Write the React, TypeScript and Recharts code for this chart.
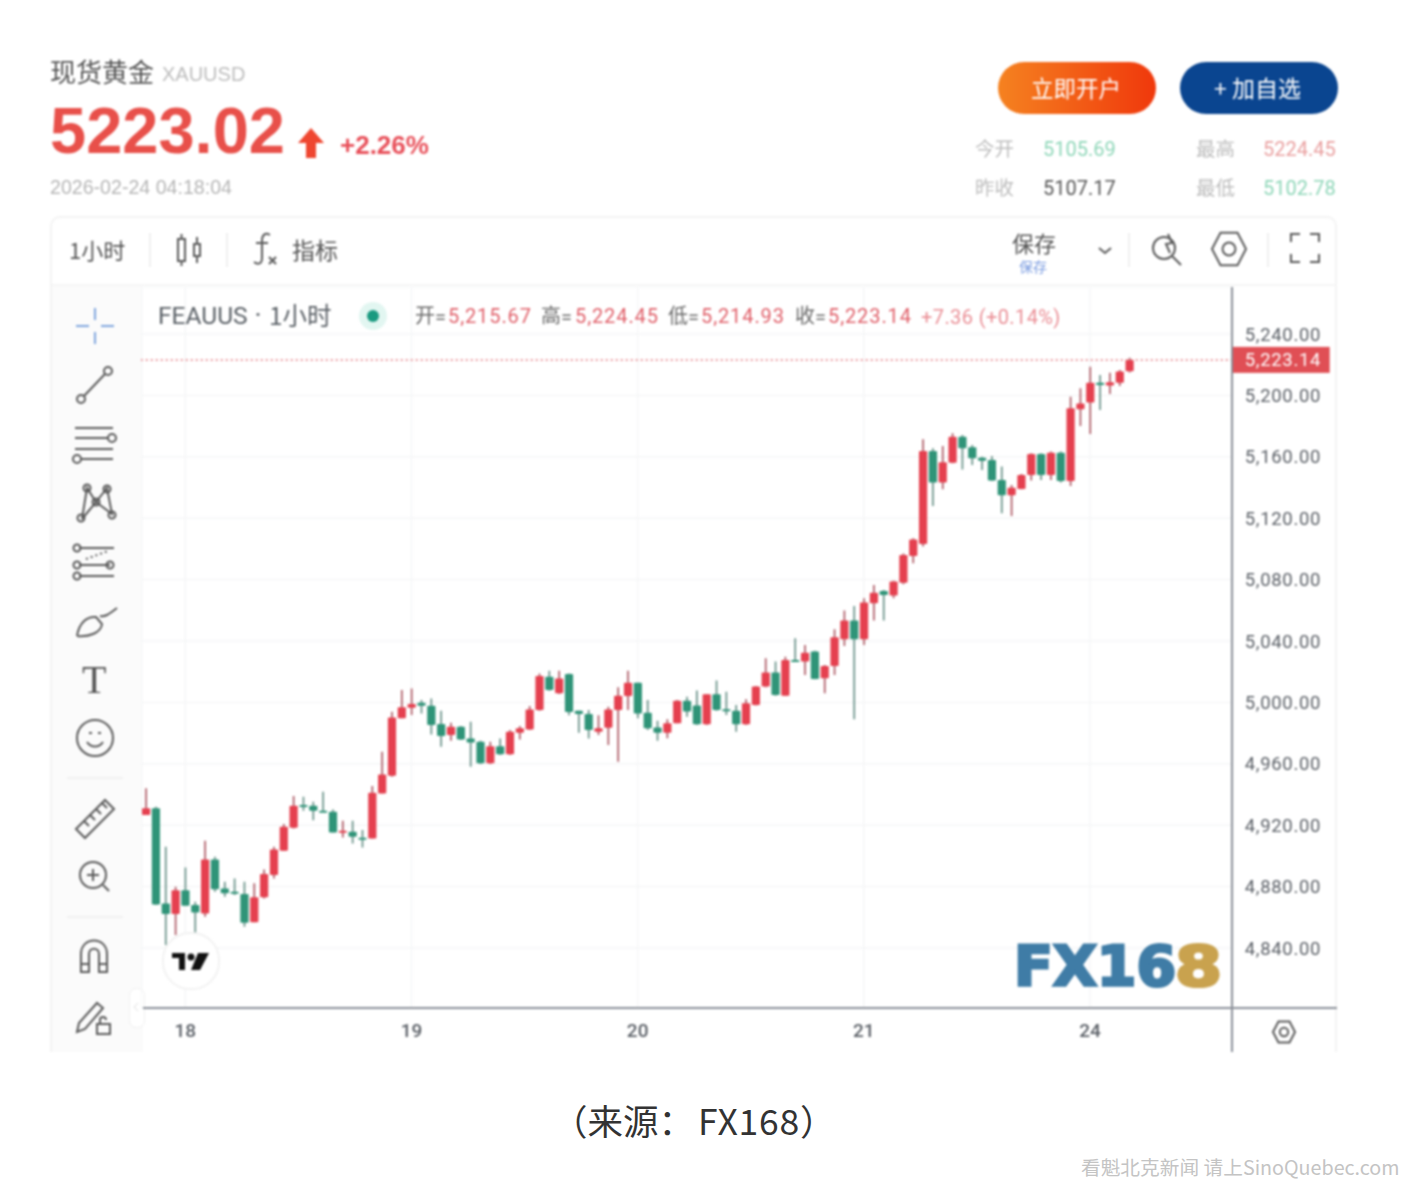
import { ComposedChart, Bar, XAxis, YAxis, CartesianGrid, ReferenceLine } from "recharts";

const UP = "#e5404f";
const DOWN = "#2f9478";
const UP_WICK = "#a8505c";
const DOWN_WICK = "#5f8a80";
const ICON = "#5a5a5a";
const CJK = '"Noto Sans CJK SC", sans-serif';
const ARIAL = '"Liberation Sans", sans-serif';

// hourly candles, oldest first
const opens = [
  4926.6, 4931, 4869, 4862.1, 4877.7, 4868, 4862.5, 4897.7, 4878.8, 4876.6,
  4875.1, 4856.7, 4873, 4887.5, 4903.4, 4918.4, 4933.1, 4932.7, 4929.4, 4928.8,
  4915.1, 4915.7, 4911.8, 4911.4, 4940.7, 4952.2, 4989.6, 4996.5, 4999.8, 4997.8,
  4985.9, 4978.7, 4984.1, 4976.5, 4974.4, 4960.3, 4971.5, 4966.3, 4980.2, 4982.4,
  4995, 5016.7, 5005.9, 5018.5, 4994.6, 4992.4, 4980.9, 4983.5, 4995, 5004.1,
  5012.8, 4993.3, 4983.7, 4980.3, 4986.4, 5001.1, 4997.9, 4985.7, 5005.3, 4995.5,
  4994.6, 4985.7, 4998.3, 5010.3, 5019.4, 5004.4, 5027.6, 5026.6, 5033.1, 5015.7,
  5023.7, 5041.1, 5053.3, 5041.1, 5064.6, 5072.6, 5069.6, 5078, 5095.4, 5103.2,
  5163.8, 5143.2, 5156.2, 5173.1, 5166.2, 5159.4, 5157.9, 5144.9, 5134.9, 5139,
  5148.1, 5161.8, 5148.1, 5162.7, 5144.2, 5190.9, 5195.3, 5208.3, 5206.4, 5208.3,
  5215.67,
];
const highs = [
  4944, 4932, 4906, 4879.9, 4892.5, 4870.1, 4909.9, 4899.5, 4883.2, 4885.3,
  4883.2, 4882.1, 4891.2, 4906, 4920.7, 4939, 4938.6, 4935.3, 4941.8, 4930.3,
  4922.9, 4922.9, 4916.8, 4945.5, 4967.9, 4993.9, 5008.1, 5009.1, 5001.5, 5002.6,
  4994.6, 4986.8, 4984.6, 4987.4, 4975, 4974.4, 4976.5, 4982, 4984.6, 4997.6,
  5018.9, 5020.6, 5020.6, 5018.9, 4994.6, 4995, 4991.7, 4997.2, 5009.8, 5020.6,
  5012.8, 5001.5, 4988.1, 4989, 5001.6, 5003.7, 5007.7, 5005.3, 5014.2, 5007,
  4998.3, 5002, 5010.7, 5028.7, 5026.6, 5029.8, 5041.8, 5037.4, 5033.7, 5024.4,
  5047.6, 5059.8, 5062.8, 5067.8, 5076.5, 5073.3, 5079.3, 5097, 5106.9, 5171.4,
  5165.5, 5167, 5175.3, 5174.2, 5167.7, 5160.1, 5160.5, 5153.6, 5141.6, 5148.8,
  5162.3, 5162.3, 5163.4, 5163.4, 5199.2, 5204.6, 5218.7, 5213.3, 5214.8, 5216.6,
  5224.45,
];
const lows = [
  4926.6, 4868, 4841.9, 4848.4, 4867.5, 4849.5, 4860.4, 4876.6, 4873.4, 4874.5,
  4853.8, 4856.7, 4872.3, 4885.3, 4903.4, 4917.9, 4929.4, 4923.3, 4928.6, 4915.3,
  4912, 4908.1, 4905.5, 4911.4, 4940.7, 4951.6, 4989.6, 4991.8, 4992.8, 4979.1,
  4971.1, 4975, 4975.5, 4958.1, 4959.8, 4959.8, 4965.7, 4965.7, 4975.9, 4982,
  4994.6, 5007.6, 5005.4, 4991.7, 4980.2, 4976.5, 4978.7, 4972.2, 4961.3, 4995,
  4989.6, 4982, 4975, 4976.6, 4986.4, 4990.7, 4985.3, 4985.3, 4994.6, 4991.8,
  4980.9, 4985.3, 4997.9, 5009.8, 5004.4, 5004.2, 5026.3, 5017.9, 5015, 5005.9,
  5017.9, 5036.8, 4989, 5037.4, 5053.3, 5053.3, 5067.8, 5077, 5090.6, 5101.5,
  5128, 5138.8, 5155.8, 5151.8, 5154.7, 5151.4, 5144.2, 5123.2, 5121.4, 5138.8,
  5144.5, 5144.9, 5144.9, 5143.2, 5141, 5180.1, 5174.9, 5190.5, 5200.9, 5206.1,
  5214.93,
];
const closes = [
  4931, 4868.4, 4862.1, 4877.7, 4867.5, 4863.2, 4897.7, 4878.2, 4875.6, 4875.6,
  4856.4, 4873, 4888.2, 4904.2, 4919, 4932.7, 4932, 4929.4, 4928.6, 4915.3,
  4916.4, 4912.5, 4911, 4941.2, 4953.1, 4990.2, 4996.8, 4998.9, 4997.8, 4985.2,
  4978.1, 4984.1, 4975.9, 4973.9, 4960.3, 4971.5, 4966.3, 4980.9, 4983.1, 4995.4,
  5017.2, 5008, 5015.6, 4993.7, 4992.4, 4982, 4983.1, 4995.4, 5004.3, 5012.8,
  4992.8, 4983.1, 4980.2, 4986.4, 5001.1, 4994, 4985.7, 5005.3, 4995.1, 4994.6,
  4985.7, 4999.4, 5010.3, 5019.4, 5004.8, 5027.6, 5026.3, 5032.4, 5015.3, 5023.7,
  5042.4, 5053.3, 5041.1, 5065, 5071.5, 5070, 5078.7, 5096, 5106.2, 5163.8,
  5143.2, 5156.4, 5173.1, 5165.5, 5159, 5157.5, 5144.5, 5134.9, 5139.9, 5148.1,
  5161.8, 5148.1, 5162.7, 5144.2, 5191.6, 5194.8, 5208.3, 5206.8, 5208.5, 5215.5,
  5223.14,
];

// empty slots to the right of the last candle
const RIGHT_SLOTS = 10;

const dayTicks = [4, 27, 50, 73, 96];
const dayLabels = ["18", "19", "20", "21", "24"];
const priceTicks = [4840, 4880, 4920, 4960, 5000, 5040, 5080, 5120, 5160, 5200, 5240];
const LAST_PRICE = 5223.14;

const chartData = Array.from({ length: opens.length + RIGHT_SLOTS }, (_, i) => ({
  slot: i,
  open: opens[i],
  high: highs[i],
  low: lows[i],
  close: closes[i],
}));

const money = (v: number) =>
  v.toLocaleString("en-US", { minimumFractionDigits: 2, maximumFractionDigits: 2 });

const Candle = ({ x, y, width, height, payload }: any) => {
  if (!payload || payload.open === undefined) return null;
  const { open, high, low, close } = payload;
  const up = close >= open;
  const perUnit = height / (high - low);
  const top = y + (high - Math.max(open, close)) * perUnit;
  const bodyH = Math.max(Math.abs(close - open) * perUnit, 2);
  const mid = x + width / 2;
  return (
    <g>
      <line x1={mid} x2={mid} y1={y} y2={y + height} stroke={up ? UP_WICK : DOWN_WICK} strokeWidth={1.6} />
      <rect x={x} y={top} width={width} height={bodyH} fill={up ? UP : DOWN} rx={1} />
    </g>
  );
};

const PriceTag = ({ viewBox }: any) => {
  const right = viewBox.x + viewBox.width;
  const y = viewBox.y;
  return (
    <g>
      <rect x={right - 1} y={y - 13} width={98} height={26} fill="#e04f55" />
      <text x={right + 12} y={y + 6} fill="#fff" fontSize={18.5} fontFamily="Roboto" letterSpacing={0.7}>
        {money(LAST_PRICE)}
      </text>
    </g>
  );
};

const T = ({ x, y, size, color, children, weight, font, spacing }: any) => (
  <span
    style={{
      position: "absolute",
      left: x,
      top: y,
      transform: "translateY(-50%)",
      fontSize: size,
      color,
      fontWeight: weight || 400,
      fontFamily: font || CJK,
      letterSpacing: spacing || 0,
      lineHeight: 1,
      whiteSpace: "nowrap",
    }}
  >
    {children}
  </span>
);

const Icon = ({ x, y, children, w = 48, h = 48 }: any) => (
  <svg
    width={w}
    height={h}
    viewBox={`${-w / 2} ${-h / 2} ${w} ${h}`}
    style={{ position: "absolute", left: x - w / 2, top: y - h / 2 }}
    fill="none"
    stroke={ICON}
    strokeWidth={2}
  >
    {children}
  </svg>
);

const Hex = ({ r }: { r: number }) => {
  const w = r * 0.95;
  return (
    <>
      <path d={`M${-r} 0 L${-r / 2} ${-w} L${r / 2} ${-w} L${r} 0 L${r / 2} ${w} L${-r / 2} ${w} Z`} />
      <circle r={r * 0.38} />
    </>
  );
};

const Rule = ({ x, y, w, h, c }: any) => (
  <div style={{ position: "absolute", left: x, top: y, width: w, height: h, background: c }} />
);

function Header() {
  return (
    <>
      <T x={50} y={71} size={26} color="#555">现货黄金</T>
      <T x={162} y={74} size={20} color="#bdbdbd" font={ARIAL}>XAUUSD</T>
      <T x={50} y={130} size={65} color="#e8504a" weight={700} font={ARIAL}>5223.02</T>
      <svg width={28} height={32} style={{ position: "absolute", left: 298, top: 127 }}>
        <path d="M13 1 L26 16 L18 16 L18 31 L8 31 L8 16 L0 16 Z" fill="#ef4630" />
      </svg>
      <T x={340} y={145} size={26} color="#e8505a" weight={700} font={ARIAL}>+2.26%</T>
      <T x={50} y={188} size={19.6} color="#b5b5b5" font={ARIAL}>2026-02-24 04:18:04</T>

      <div
        style={{
          position: "absolute", left: 998, top: 62, width: 158, height: 52, borderRadius: 26,
          background: "linear-gradient(90deg,#f58220,#f0380c)",
        }}
      />
      <T x={1031} y={87} size={22.5} color="#fff">立即开户</T>
      <div style={{ position: "absolute", left: 1180, top: 62, width: 158, height: 52, borderRadius: 26, background: "#0a4590" }} />
      <T x={1214} y={87} size={23} color="#fff">+ 加自选</T>

      <T x={975} y={148} size={19.5} color="#bdbdbd">今开</T>
      <T x={1043} y={149} size={20} color="#8ed6b8" font="Roboto">5105.69</T>
      <T x={1196} y={148} size={19.5} color="#bdbdbd">最高</T>
      <T x={1263} y={149} size={20} color="#e9a0a0" font="Roboto">5224.45</T>
      <T x={975} y={187} size={19.5} color="#bdbdbd">昨收</T>
      <T x={1043} y={188} size={20} color="#555" font="Roboto">5107.17</T>
      <T x={1196} y={187} size={19.5} color="#bdbdbd">最低</T>
      <T x={1263} y={188} size={20} color="#8ed6b8" font="Roboto">5102.78</T>
    </>
  );
}

function TopBar() {
  return (
    <>
      <T x={69} y={249} size={22} color="#555">1小时</T>
      <Rule x={149} y={233} w={2} h={34} c="#f0f0f0" />
      <Icon x={189} y={250}>
        <rect x={-11} y={-11} width={7} height={22} />
        <line x1={-7.5} x2={-7.5} y1={-16} y2={-11} />
        <line x1={-7.5} x2={-7.5} y1={11} y2={16} />
        <rect x={5} y={-6} width={6} height={12} />
        <line x1={8} x2={8} y1={-13} y2={-6} />
        <line x1={8} x2={8} y1={6} y2={13} />
      </Icon>
      <Rule x={226} y={233} w={2} h={34} c="#f0f0f0" />
      <Icon x={264} y={249}>
        <path d="M6 -14 C1 -17 -2 -14 -2 -8 V9 C-2 15 -6 16 -10 13 M-8 -6 H4" />
        <path d="M5 8 L12 15 M12 8 L5 15" />
      </Icon>
      <T x={292} y={249} size={23} color="#555">指标</T>
      <T x={1012} y={242} size={22} color="#555">保存</T>
      <T x={1019} y={266} size={14} color="#7a9be0">保存</T>
      <Icon x={1105} y={250}><path d="M-6 -2 L0 3 L6 -2" /></Icon>
      <Rule x={1128} y={233} w={2} h={34} c="#f0f0f0" />
      <Icon x={1166} y={248}>
        <circle cx={-2} cy={0} r={11} />
        <path d="M6 8 L15 17 M2 -14 L6 -5 L0 -4 L4 5" />
      </Icon>
      <Icon x={1229} y={249}><Hex r={17} /></Icon>
      <Rule x={1267} y={233} w={2} h={34} c="#f0f0f0" />
      <Icon x={1305} y={248}>
        <path d="M-14 -6 V-14 H-5 M5 -14 H14 V-6 M14 6 V14 H5 M-5 14 H-14 V6" />
      </Icon>
    </>
  );
}

function SideBar() {
  return (
    <>
      <Icon x={95} y={326}>
        <path d="M-19 0 H-6 M6 0 H19 M0 -18 V-6 M0 6 V18" stroke="#7fa6de" />
      </Icon>
      <Icon x={95} y={385}>
        <circle cx={13} cy={-14} r={4} />
        <circle cx={-14} cy={14} r={4} />
        <path d="M10 -11 L-11 11" />
      </Icon>
      <Icon x={94} y={443}>
        <path d="M-19 -15 H19 M-19 -5 H14 M-19 6 H19 M-13 16 H19" />
        <circle cx={18} cy={-5} r={4} />
        <circle cx={-17} cy={16} r={4} />
      </Icon>
      <Icon x={95} y={502}>
        <path d="M-13 17 L-8 -14 L1 0 L12 -14 L17 12 L1 0 L-13 17" />
        <circle cx={-14} cy={16} r={3.5} />
        <circle cx={-8} cy={-14} r={3.5} />
        <circle cx={12} cy={-13} r={3.5} />
        <circle cx={17} cy={13} r={3.5} />
        <circle cx={1} cy={0} r={3.5} />
      </Icon>
      <Icon x={94} y={563}>
        <path d="M-15 -15 H20 M-15 2 H16 M-15 13 H20" />
        <circle cx={-17} cy={-15} r={3.5} />
        <circle cx={-17} cy={2} r={3.5} />
        <circle cx={-17} cy={13} r={3.5} />
        <circle cx={16} cy={2} r={3.5} />
        <path d="M-8 -4 L14 -12" strokeDasharray="2 3" />
      </Icon>
      <Icon x={96} y={621}>
        <path d="M-19 15 C-17 2 -9 -5 0 -4 L6 3 C5 12 -7 16 -19 15 M4 -5 C9 -4 12 -6 21 -13" />
      </Icon>
      <T x={82} y={680} size={40} color="#555" font="Liberation Serif">T</T>
      <Icon x={95} y={738}>
        <circle r={18} />
        <path d="M-8 4 C-4 10 4 10 8 4 M-6 -5 H-3 M3 -5 H6" />
      </Icon>
      <Rule x={67} y={777} w={56} h={2} c="#f0f0f0" />
      <Icon x={95} y={818}>
        <path d="M-19 11 L10 -18 L19 -9 L-10 20 Z M-11 3 L-6 8 M-5 -3 L0 2 M1 -9 L6 -4 M7 -15 L12 -10" />
      </Icon>
      <Icon x={93} y={876}>
        <circle cx={0} cy={-1} r={13} />
        <path d="M-6 -1 H6 M0 -7 V5 M10 9 L16 15" />
      </Icon>
      <Rule x={67} y={916} w={56} h={2} c="#f0f0f0" />
      <Icon x={94} y={957}>
        <path d="M-13 15 V-3 C-13 -21 13 -21 13 -3 V15 H5 V-3 C5 -10 -5 -10 -5 -3 V15 Z M-13 7 H-5 M5 7 H13" />
      </Icon>
      <Icon x={93} y={1016}>
        <path d="M-16 16 L-14 7 L4 -13 L10 -8 L-8 13 Z" />
        <rect x={4} y={8} width={13} height={10} />
        <path d="M7 8 V4 C7 0 13 0 13 4" />
      </Icon>
      <div
        style={{
          position: "absolute", left: 129, top: 988, width: 14, height: 38, borderRadius: 7,
          border: "1px solid #f0f0f0", background: "#fff",
        }}
      />
      <Icon x={136} y={1007} w={12} h={14}><path d="M2 -4 L-2 0 L2 4" stroke="#ddd" strokeWidth={1} /></Icon>
    </>
  );
}

function Overlays() {
  return (
    <>
      <T x={158} y={316} size={24.5} color="#5a6066" font="Roboto">FEAUUS</T>
      <T x={255} y={314} size={20} color="#5a6066" font="Roboto" weight={700}>·</T>
      <T x={269} y={315} size={24.5} color="#5a6066">1小时</T>
      <div style={{ position: "absolute", left: 359, top: 302, width: 28, height: 28, borderRadius: 14, background: "#e2f6f1" }} />
      <div style={{ position: "absolute", left: 367, top: 310, width: 12, height: 12, borderRadius: 6, background: "#1a9a80" }} />
      {[
        [415, "开", 448, "5,215.67"],
        [541, "高", 575, "5,224.45"],
        [668, "低", 701, "5,214.93"],
        [795, "收", 828, "5,223.14"],
      ].map(([x1, k, x2, v]: any) => (
        <span key={k}>
          <T x={x1} y={315} size={20} color="#6a6a6a">{k}</T>
          <T x={x1 + 20} y={317} size={20} color="#6a6a6a" font="Roboto">=</T>
          <T x={x2} y={316} size={20} color="#e0606a" font="Roboto" spacing={0.9}>{v}</T>
        </span>
      ))}
      <T x={921} y={317} size={20} color="#ea8f96" font="Roboto" spacing={0.4}>+7.36 (+0.14%)</T>

      {/* axis lines run on past the plot */}
      <Rule x={143} y={1007} w={1194} h={2} c="#8a8f98" />
      <Rule x={1231} y={287} w={2} h={765} c="#8a8f98" />

      <div
        style={{
          position: "absolute", left: 162, top: 932, width: 54, height: 54, borderRadius: 28,
          background: "#fff", border: "2px solid #f2f2f2",
        }}
      />
      <svg width={40} height={20} style={{ position: "absolute", left: 171, top: 952 }}>
        <path d="M1 1 H14 V18 H8 V6 H1 Z M27 1 H38 L29 18 H20 Z" fill="#111" />
        <circle cx={20} cy={5} r={3.5} fill="#111" />
      </svg>

      <svg width={260} height={80} style={{ position: "absolute", left: 1000, top: 925, overflow: "visible" }}>
        <text
          x={14} y={60} fontFamily="DejaVu Sans" fontWeight={700} fontSize={55}
          textLength={162} lengthAdjust="spacingAndGlyphs" fill="#3f7ca6" stroke="#3f7ca6" strokeWidth={3}
        >
          FX16
        </text>
        <text
          x={175} y={60} fontFamily="DejaVu Sans" fontWeight={700} fontSize={55}
          textLength={47} lengthAdjust="spacingAndGlyphs" fill="#c9a24e" stroke="#c9a24e" strokeWidth={3}
        >
          8
        </text>
      </svg>

      <Icon x={1284} y={1032} w={30} h={30}><Hex r={11} /></Icon>
    </>
  );
}

export default function App() {
  return (
    <div style={{ position: "absolute", left: 0, top: 0, width: 1404, height: 1184, background: "#fff", overflow: "hidden" }}>
      <div style={{ position: "absolute", inset: 0, filter: "blur(0.8px)" }}>
        <Header />
        {/* panel */}
        <div
          style={{
            position: "absolute", left: 50, top: 216, width: 1287, height: 836, boxSizing: "border-box",
            border: "2px solid #f3f3f3", borderBottom: "none", borderRadius: "10px 10px 0 0",
          }}
        />
        <Rule x={52} y={284} w={1285} h={2} c="#f5f5f5" />
        <Rule x={52} y={286} w={91} h={766} c="#fbfbfb" />
        <TopBar />
        <SideBar />
        <div style={{ position: "absolute", left: 141, top: 287 }}>
          <ComposedChart width={1196} height={765} data={chartData} margin={{ top: 0, right: 0, bottom: 0, left: 0 }} barSize={8.2}>
            <CartesianGrid stroke="#f5f6f7" strokeWidth={1.5} />
            <XAxis
              dataKey="slot"
              type="category"
              ticks={dayTicks}
              interval={0}
              height={44}
              tickFormatter={(v: number) => dayLabels[dayTicks.indexOf(v)]}
              axisLine={false}
              tickLine={false}
              tickSize={0}
              tickMargin={16}
              tick={{ fontSize: 19, fill: "#5a5f66", fontFamily: "Roboto", fontWeight: 500 }}
            />
            <YAxis
              orientation="right"
              width={104.3}
              domain={[4800.91, 5270.62]}
              allowDataOverflow
              ticks={priceTicks}
              interval={0}
              tickFormatter={money}
              axisLine={false}
              tickLine={false}
              tickSize={0}
              tickMargin={12}
              tick={{ fontSize: 18.5, fill: "#5a5f66", fontFamily: "Roboto", letterSpacing: 0.7 }}
            />
            <Bar
              dataKey={(d: any) => (d.open === undefined ? null : [d.low, d.high])}
              shape={<Candle />}
              isAnimationActive={false}
            />
            <ReferenceLine y={LAST_PRICE} stroke="#e5787f" strokeDasharray="2 3" strokeWidth={1.5} label={<PriceTag />} />
          </ComposedChart>
        </div>
        <Overlays />
      </div>
      <T x={552} y={1120} size={35.5} color="#333">（来源：</T>
      <T x={698} y={1120} size={35.5} color="#333" spacing={0.8}>FX168）</T>
      <T x={1081} y={1167} size={19.7} color="#c4c4c4">看魁北克新闻 请上SinoQuebec.com</T>
    </div>
  );
}
